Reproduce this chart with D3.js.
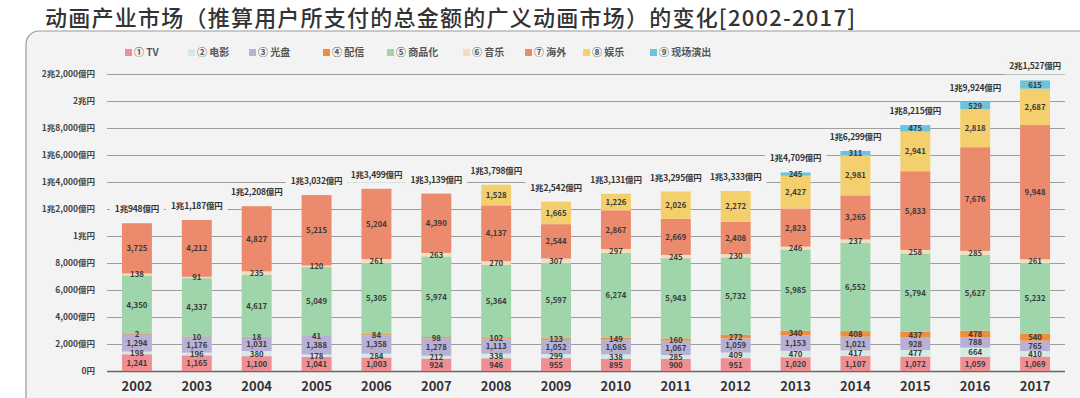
<!DOCTYPE html>
<html><head><meta charset="utf-8">
<script src="https://cdn.jsdelivr.net/npm/d3@7"></script>
<style>
html,body{margin:0;padding:0;background:#fff;}
svg{display:block;font-family:"Noto Sans CJK JP","Noto Sans CJK SC",sans-serif;}
</style></head>
<body>
<svg id="chart" width="1080" height="398"></svg>
<script>
const years = ["2002","2003","2004","2005","2006","2007","2008","2009","2010","2011","2012","2013","2014","2015","2016","2017"];
const seriesNames = ["① TV","② 电影","③ 光盘","④ 配信","⑤ 商品化","⑥ 音乐","⑦ 海外","⑧ 娱乐","⑨ 现场演出"];
const seriesColors = ["#ef8f93","#d3ebe2","#b9b0d6","#ef8d3b","#9fd5aa","#f4dcbd","#eb8a6c","#f3cf6d","#6cc3dc"];
const tv       = [1241,1165,1100,1041,1003,924,946,955,895,900,951,1020,1107,1072,1059,1069];
const movie    = [198,196,380,178,284,212,338,299,338,285,409,470,417,477,664,410];
const disc     = [1294,1176,1031,1388,1358,1278,1113,1052,1085,1067,1059,1153,1021,928,788,765];
const stream   = [2,10,18,41,84,98,102,123,149,160,272,340,408,437,478,540];
const merch    = [4350,4337,4617,5049,5305,5974,5364,5597,6274,5943,5732,5985,6552,5794,5627,5232];
const music    = [138,91,235,120,261,263,270,307,297,245,230,246,237,258,285,261];
const overseas = [3725,4212,4827,5215,5204,4390,4137,2544,2867,2669,2408,2823,3265,5833,7676,9948];
const amuse    = [0,0,0,0,0,0,1528,1665,1226,2026,2272,2427,2981,2941,2818,2687];
const live     = [0,0,0,0,0,0,0,0,0,0,0,245,311,475,529,615];
const totalLabels = ["1兆948億円","1兆1,187億円","1兆2,208億円","1兆3,032億円","1兆3,499億円","1兆3,139億円","1兆3,798億円","1兆2,542億円","1兆3,131億円","1兆3,295億円","1兆3,333億円","1兆4,709億円","1兆6,299億円","1兆8,215億円","1兆9,924億円","2兆1,527億円"];
const yTickValues = [0,2000,4000,6000,8000,10000,12000,14000,16000,18000,20000,22000];
const yTickLabels = ["0円","2,000億円","4,000億円","6,000億円","8,000億円","1兆円","1兆2,000億円","1兆4,000億円","1兆6,000億円","1兆8,000億円","2兆円","2兆2,000億円"];
const title = "动画产业市场（推算用户所支付的总金额的广义动画市场）的变化[2002-2017]";

const seriesData = [tv,movie,disc,stream,merch,music,overseas,amuse,live];
const panelFill = "#f3f3f3";

const svg = d3.select("#chart");

// title
svg.append("text").attr("x",45).attr("y",26)
  .attr("font-family","'Noto Sans CJK SC',sans-serif")
  .attr("font-size",22).attr("font-weight",500).attr("fill","#333")
  .attr("textLength",810).attr("lengthAdjust","spacing")
  .text(title);

// panel
svg.append("rect").attr("x",26).attr("y",31).attr("width",1080).attr("height",400)
  .attr("rx",13).attr("fill",panelFill).attr("stroke","#9a9a9a").attr("stroke-width",1.2);

// legend
const legendX = [125,188,249,323,387,463,525,583,650];
const lg = svg.append("g");
seriesNames.forEach((n,i)=>{
  lg.append("rect").attr("x",legendX[i]).attr("y",49).attr("width",7).attr("height",7).attr("fill",seriesColors[i]);
  lg.append("text").attr("x",legendX[i]+9).attr("y",56).attr("font-size",10).attr("font-weight","bold")
    .attr("fill","#555").text(n);
});

// scales
const x = d3.scaleBand().domain(years).range([107,1065]).paddingInner(0.5).paddingOuter(0.25);
const y = d3.scaleLinear().domain([0,22000]).range([371,74]);

// grid + y labels
const yAxis = d3.axisLeft(y).tickValues(yTickValues).tickSize(-(1065-107)).tickPadding(12)
  .tickFormat((d,i)=>yTickLabels[i]);
const ga = svg.append("g").attr("transform","translate(107,0)").call(yAxis);
ga.select(".domain").remove();
ga.selectAll(".tick line").attr("stroke","#9d9d9d").attr("stroke-width",1);
ga.selectAll(".tick text").attr("font-size",8.5).attr("font-weight","bold").attr("fill","#444")
  .attr("font-family","'Noto Sans CJK JP',sans-serif");
ga.selectAll(".tick").filter(d=>d===0).select("line").attr("stroke","#666").attr("stroke-width",1.6);

// stack
const rows = years.map((yr,j)=>{
  const r = {year:yr};
  seriesNames.forEach((n,i)=>{ r[i]=seriesData[i][j]; });
  return r;
});
const stack = d3.stack().keys(d3.range(seriesNames.length))(rows);

const bars = svg.append("g");
stack.forEach((layer,i)=>{
  bars.selectAll(null).data(layer.filter(d=>d[1]-d[0]>0)).enter().append("rect")
    .attr("x",d=>x(d.data.year)).attr("width",x.bandwidth())
    .attr("y",d=>y(d[1])).attr("height",d=>Math.max(0.5,y(d[0])-y(d[1])))
    .attr("fill",seriesColors[i]);
});

// segment labels
const fmt = d3.format(",");
const labs = svg.append("g").attr("font-size",7.8).attr("font-weight","bold").attr("fill","#3a3a3a")
  .attr("text-anchor","middle").attr("font-family","'Noto Sans CJK JP',sans-serif");
stack.forEach((layer,i)=>{
  labs.selectAll(null).data(layer.filter(d=>d[1]-d[0]>0)).enter().append("text")
    .attr("x",d=>x(d.data.year)+x.bandwidth()/2)
    .attr("y",d=>y((d[0]+d[1])/2)+3)
    .text(d=>fmt(d[1]-d[0]));
});

// totals
const tg = svg.append("g");
rows.forEach((r,j)=>{
  const tot = d3.sum(seriesData, s=>s[j]);
  const cx = x(r.year)+x.bandwidth()/2;
  const cy = y(tot)-14;
  const t = tg.append("text").attr("x",cx).attr("y",cy+3).attr("text-anchor","middle")
    .attr("font-size",8.5).attr("font-weight","bold").attr("fill","#333").attr("letter-spacing",-0.2)
    .attr("font-family","'Noto Sans CJK JP',sans-serif").text(totalLabels[j]);
  const bb = t.node().getBBox();
  tg.insert("rect","text").attr("x",bb.x-5).attr("y",cy-8).attr("width",bb.width+10).attr("height",16)
    .attr("fill",panelFill);
});

// year labels
svg.append("g").selectAll("text").data(years).enter().append("text")
  .attr("x",d=>x(d)+x.bandwidth()/2).attr("y",391).attr("text-anchor","middle")
  .attr("font-size",13).attr("font-weight","bold").attr("fill","#333")
  .attr("font-family","'Noto Sans CJK JP',sans-serif").text(d=>d);
</script>
</body></html>
